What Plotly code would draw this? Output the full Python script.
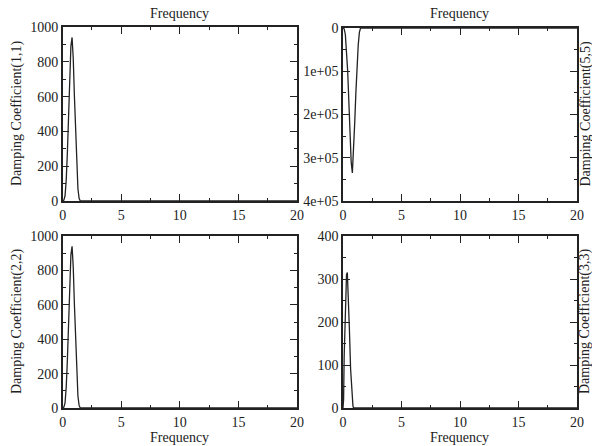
import plotly.graph_objects as go

# Frequency samples and read-off damping coefficients
freq_11 = [0, 0.1, 0.2, 0.3, 0.4, 0.5, 0.6, 0.7, 0.8, 0.9, 1.0, 1.1, 1.2, 1.3, 1.4, 1.5, 2.0, 20.0]
damp_11 = [0, 5, 30, 120, 280, 480, 700, 890, 940, 820, 600, 380, 190, 70, 15, 0, 0, 0]

freq_55 = [0, 0.1, 0.2, 0.3, 0.4, 0.5, 0.6, 0.7, 0.8, 0.9, 1.0, 1.1, 1.2, 1.3, 1.4, 1.5, 2.0, 20.0]
damp_55 = [0, 2e3, 1.5e4, 5e4, 1.0e5, 1.7e5, 2.5e5, 3.1e5, 3.35e5, 2.9e5, 2.2e5, 1.5e5, 9e4, 4e4, 1e4, 0, 0, 0]

freq_22 = [0, 0.1, 0.2, 0.3, 0.4, 0.5, 0.6, 0.7, 0.8, 0.9, 1.0, 1.1, 1.2, 1.3, 1.4, 1.5, 2.0, 20.0]
damp_22 = [0, 5, 30, 120, 280, 480, 700, 890, 940, 820, 600, 380, 190, 70, 15, 0, 0, 0]

freq_33 = [0, 0.05, 0.1, 0.2, 0.3, 0.37, 0.45, 0.55, 0.65, 0.75, 0.85, 0.9, 2.0, 20.0]
damp_33 = [0, 20, 120, 250, 310, 315, 270, 180, 90, 30, 5, 0, 0, 0]

x_ticks = [0, 5, 10, 15, 20]
y55_ticks = [0, 100000, 200000, 300000, 400000]
y55_labels = ["0", "1e+05", "2e+05", "3e+05", "4e+05"]
titles = ["Damping Coefficient(1,1)", "Damping Coefficient(5,5)",
          "Damping Coefficient(2,2)", "Damping Coefficient(3,3)"]

W, H = 592, 446
FONT = "Liberation Serif"
INK = "#222222"

# plot-area pixel boxes (left, right, top, bottom)
boxes = [(62.7, 297, 27, 201), (343, 577, 28, 201),
         (62.7, 297, 236, 408), (343, 577, 236, 408)]

fig = go.Figure()
series = [(freq_11, damp_11), (freq_55, damp_55), (freq_22, damp_22), (freq_33, damp_33)]
for i, (fx, fy) in enumerate(series):
    n = "" if i == 0 else str(i + 1)
    fig.add_trace(go.Scatter(x=fx, y=fy, mode="lines", xaxis="x" + n, yaxis="y" + n,
                             line=dict(color=INK, width=1.3), showlegend=False,
                             hoverinfo="skip"))

yranges = [[0, 1000], [400000, 0], [0, 1000], [0, 400]]
ydticks = [200, 100000, 200, 100]

common = dict(showgrid=False, zeroline=False, showline=True, linecolor=INK, linewidth=1.5,
              mirror="allticks", ticks="inside", ticklen=7, tickwidth=1.3, tickcolor=INK,
              automargin=False,
              tickfont=dict(family=FONT, size=14, color=INK))

layout = dict(width=W, height=H, margin=dict(l=0, r=0, t=0, b=0, autoexpand=False),
              paper_bgcolor="white", plot_bgcolor="white",
              font=dict(family=FONT, size=14, color=INK))

for i, (l, r, t, b) in enumerate(boxes):
    n = "" if i == 0 else str(i + 1)
    layout["xaxis" + n] = dict(common, domain=[l / W, r / W], range=[0, 20],
                               tickvals=x_ticks, anchor="y" + n,
                               minor=dict(dtick=2.5, ticklen=3.5, ticks="inside", tickcolor=INK, tickwidth=1.2))
    yax = dict(common, domain=[1 - b / H, 1 - t / H], range=yranges[i], anchor="x" + n,
               minor=dict(dtick=ydticks[i] / 2, ticklen=3.5, ticks="inside", tickcolor=INK, tickwidth=1.2))
    if i == 1:
        yax["tickvals"] = y55_ticks
        yax["ticktext"] = y55_labels
    else:
        yax["dtick"] = ydticks[i]
    layout["yaxis" + n] = yax

annotations = []
for i, (l, r, t, b) in enumerate(boxes):
    cx = (l + r) / 2
    cy = (t + b) / 2
    ty = 14 if i < 2 else 437
    annotations.append(dict(text="Frequency", x=cx / W, y=1 - ty / H, xref="paper", yref="paper",
                            xanchor="center", yanchor="middle",
                            showarrow=False, font=dict(family=FONT, size=14, color=INK)))
    ytx = 17 if i % 2 == 0 else 585
    annotations.append(dict(text=titles[i], x=ytx / W, y=1 - cy / H, xref="paper", yref="paper",
                            xanchor="center", yanchor="middle",
                            showarrow=False, textangle=-90,
                            font=dict(family=FONT, size=14, color=INK)))
layout["annotations"] = annotations

fig.update_layout(**layout)
fig.write_html("out.html")
